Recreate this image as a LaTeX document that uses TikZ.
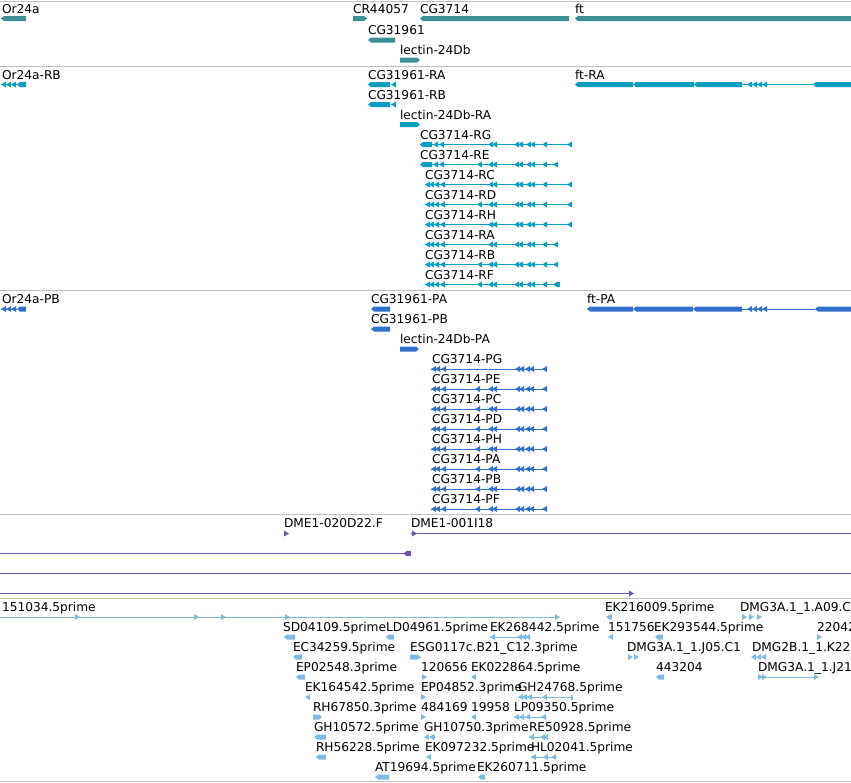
\documentclass[tikz,border=0pt]{standalone}
\usepackage{fontspec}
\setmainfont{DejaVu Sans}
\definecolor{cT}{RGB}{62,143,148}
\definecolor{cC}{RGB}{8,158,192}
\definecolor{cB}{RGB}{51,112,204}
\definecolor{cP}{RGB}{112,84,170}
\definecolor{cL}{RGB}{128,186,224}
\definecolor{cS}{RGB}{192,192,192}
\newcommand\lfont{\fontsize{12.2}{14}\selectfont}
\newcommand\GLbar[3]{\fill[gfill] (#1,#3) -- (#1+3,#3-2.5) -- (#2,#3-2.5) -- (#2,#3+2.5) -- (#1+3,#3+2.5) -- cycle;}
\newcommand\GRbar[3]{\fill[gfill] (#2,#3) -- (#2-3,#3-2.5) -- (#1,#3-2.5) -- (#1,#3+2.5) -- (#2-3,#3+2.5) -- cycle;}
\newcommand\GLh[2]{\fill[gfill] (#1,#2) -- (#1+5,#2-3) -- (#1+5,#2+3) -- cycle;}
\newcommand\GRh[2]{\fill[gfill] (#1,#2) -- (#1-5,#2-3) -- (#1-5,#2+3) -- cycle;}
\newcommand\GLhs[2]{\foreach \hx in {#1}{\GLh{\hx}{#2}}}
\newcommand\GRhs[2]{\foreach \hx in {#1}{\GRh{\hx}{#2}}}
\newcommand\GLn[3]{\draw[gline] (#1,#3) -- (#2,#3);}
\begin{document}
\begin{tikzpicture}[x=1pt,y=-1pt,
  lab/.style={anchor=base west,inner sep=0pt,outer sep=0pt,font=\lfont,text=black},
  gfill/.style={fill=gc},
  gline/.style={draw=gc,line width=1pt},
  sep/.style={draw=cS,line width=1pt}]
\useasboundingbox (0,0) rectangle (851,782);
\clip (0,0) rectangle (851,782);
\fill[white] (0,0) rectangle (851,782);
% separators
\draw[sep] (0,1) -- (851,1);
\draw[sep] (0,66) -- (851,66);
\draw[sep] (0,290.5) -- (851,290.5);
\draw[sep] (0,514) -- (851,514);
\draw[sep] (0,598) -- (851,598);
\draw[sep] (0,781) -- (851,781);
% ---------- track 1 (genes)
\begin{scope}
\colorlet{gc}{cT}
\node[lab] (g1) at (2,13) {Or24a};
\GLbar{1}{26}{18.5}
\node[lab] (g2) at (353,13) {CR44057};
\GRbar{353}{367}{18.5}
\node[lab] (g3) at (420,13) {CG3714};
\GLbar{420}{569}{18.5}
\node[lab] (g4) at (575,13) {ft};
\GLbar{575}{852}{18.5}
\node[lab] (g5) at (368,34) {CG31961};
\GLbar{368}{395}{40}
\node[lab] (g6) at (400,54) {lectin-24Db};
\GRbar{400}{420}{60}
\end{scope}
% ---------- track 2 (transcripts R)
\begin{scope}
\colorlet{gc}{cC}
\node[lab] (r1) at (2,79) {Or24a-RB};
\GLn{1}{17}{84.5}\GLhs{1,6,11}{84.5}\GLbar{17}{26}{84.5}
\node[lab] (r2) at (368,79) {CG31961-RA};
\GLbar{368}{390}{84.5}\GLh{391}{84.5}
\node[lab] (r3) at (575,79) {ft-RA};
\GLbar{575}{633}{84.5}\GLbar{633}{694}{84.5}\GLbar{694}{742}{84.5}
\GLn{742}{813}{84.5}\GLhs{747,752,757,762}{84.5}\GLbar{813}{852}{84.5}
\node[lab] (r4) at (368,99) {CG31961-RB};
\GLbar{368}{390}{104.5}\GLh{391}{104.5}
\node[lab] (r5) at (400,119) {lectin-24Db-RA};
\GRbar{400}{420}{124.5}
\node[lab] (r6) at (420,139) {CG3714-RG};
\GLn{420}{572}{144.5}\GLbar{420}{432}{144.5}\GLhs{433,439,488,492,514,518,526,530,542,567}{144.5}
\node[lab] (r7) at (420,159) {CG3714-RE};
\GLn{420}{558}{164.5}\GLbar{420}{432}{164.5}\GLhs{433,439,477,488,492,514,518,526,530,542,553}{164.5}
\node[lab] (r8) at (425,179) {CG3714-RC};
\GLn{425}{572}{184.5}\GLhs{425,429,434,440,488,492,514,518,526,530,542,567}{184.5}
\node[lab] (r9) at (425,199) {CG3714-RD};
\GLn{425}{572}{204.5}\GLhs{425,429,434,440,477,488,492,514,518,526,530,542,567}{204.5}
\node[lab] (r10) at (425,219) {CG3714-RH};
\GLn{425}{572}{224.5}\GLhs{425,429,434,440,488,492,514,518,526,530,542,567}{224.5}
\node[lab] (r11) at (425,239) {CG3714-RA};
\GLn{425}{558}{244.5}\GLhs{425,429,434,440,488,492,514,518,526,530,542,553}{244.5}
\node[lab] (r12) at (425,259) {CG3714-RB};
\GLn{425}{558}{264.5}\GLhs{425,429,434,440,477,488,492,514,518,526,530,542,553}{264.5}
\node[lab] (r13) at (425,279) {CG3714-RF};
\GLn{425}{560}{284.5}\GLhs{425,429,434,440,477,488,492,514,518,526,530,542,553}{284.5}\fill[gfill] (556,282) rectangle (560,287);
\end{scope}
% ---------- track 3 (transcripts P)
\begin{scope}
\colorlet{gc}{cB}
\node[lab] (p1) at (2,303) {Or24a-PB};
\GLn{1}{17}{309}\GLhs{1,6,11}{309}\GLbar{17}{26}{309}
\node[lab] (p2) at (371,303) {CG31961-PA};
\GLbar{371}{390}{309}
\node[lab] (p3) at (587,303) {ft-PA};
\GLbar{587}{633}{309}\GLbar{633}{693}{309}\GLbar{693}{742}{309}
\GLn{742}{815}{309}\GLhs{747,752,757,762}{309}\GLbar{815}{852}{309}
\node[lab] (p4) at (371,323) {CG31961-PB};
\GLbar{371}{390}{329}
\node[lab] (p5) at (400,343) {lectin-24Db-PA};
\GRbar{400}{419}{349}
\node[lab] (p6) at (432,363) {CG3714-PG};
\GLn{431}{547}{369}\GLhs{431,435,441,515,519,525,529,542}{369}
\node[lab] (p7) at (432,383) {CG3714-PE};
\GLn{431}{547}{389}\GLhs{431,435,441,475,488,492,515,519,525,529,542}{389}
\node[lab] (p8) at (432,403) {CG3714-PC};
\GLn{431}{547}{409}\GLhs{431,435,441,475,488,492,515,519,525,529,542}{409}
\node[lab] (p9) at (432,423) {CG3714-PD};
\GLn{431}{547}{429}\GLhs{431,435,441,475,488,492,515,519,525,529,542}{429}
\node[lab] (p10) at (432,443) {CG3714-PH};
\GLn{431}{547}{449}\GLhs{431,435,441,475,488,492,515,519,525,529,542}{449}
\node[lab] (p11) at (432,463) {CG3714-PA};
\GLn{431}{547}{469}\GLhs{431,435,441,475,488,492,515,519,525,529,542}{469}
\node[lab] (p12) at (432,483) {CG3714-PB};
\GLn{431}{547}{489}\GLhs{431,435,441,475,488,492,515,519,525,529,542}{489}
\node[lab] (p13) at (432,503) {CG3714-PF};
\GLn{431}{547}{509}\GLhs{431,435,441,475,488,492,515,519,525,529,542}{509}
\end{scope}
% ---------- track 4 (BAC ends)
\begin{scope}
\colorlet{gc}{cP}
\node[lab] (d1) at (284,527.5) {DME1-020D22.F};
\GRh{289}{533.5}
\node[lab] (d2) at (411,527.5) {DME1-001I18};
\GLn{411}{852}{533.5}\GRh{417}{533.5}
\GLn{-1}{408}{553.5}\GLh{403}{553.5}\fill[gfill] (406,551) rectangle (411,556);
\GLn{-1}{852}{573.5}
\GLn{-1}{630}{593.5}\GRh{634}{593.5}
\end{scope}
% ---------- track 5 (ESTs)
\begin{scope}
\colorlet{gc}{cL}
% row 0
\node[lab] (e1) at (2,611) {151034.5prime};
\GLn{-1}{558}{617}\GRhs{80,199,226,290,560}{617}
\node[lab] (e2) at (605,611) {EK216009.5prime};
\GLh{606}{617}\fill[gfill] (609,615) rectangle (612,619);
\node[lab] (e3) at (740,611) {DMG3A.1\_1.A09.C};
\GRhs{747,754,762}{617}
% row 1
\node[lab] (e4) at (283,631) {SD04109.5prime};
\GLbar{284}{295}{637}
\node[lab] (e5) at (386,631) {LD04961.5prime};
\GLbar{386}{394}{637}
\node[lab] (e6) at (490,631) {EK268442.5prime};
\GLn{490}{531}{637}\GLhs{490,517,521,525}{637}
\node[lab] (e7) at (608,631) {151756};
\GLh{608}{637}
\node[lab] (e8) at (654,631) {EK293544.5prime};
\GLbar{655}{663}{637}
\node[lab] (e9) at (817,631) {22042};
\GRh{822}{637}
% row 2
\node[lab] (e10) at (293,651) {EC34259.5prime};
\GLbar{293}{302}{657}
\node[lab] (e11) at (410,651) {ESG0117c.B21\_C12.3prime};
\GRbar{410}{421}{657}
\node[lab] (e12) at (627,651) {DMG3A.1\_1.J05.C1};
\GRhs{633,639}{657}
\node[lab] (e13) at (752,651) {DMG2B.1\_1.K22.};
\GLhs{751,756,761}{657}
% row 3
\node[lab] (e14) at (296,671) {EP02548.3prime};
\GLbar{296}{305}{677}
\node[lab] (e15) at (421,671) {120656};
\GRh{427}{677}
\node[lab] (e16) at (471,671) {EK022864.5prime};
\GLh{471}{677}
\node[lab] (e17) at (656,671) {443204};
\GLbar{656}{664}{677}
\node[lab] (e18) at (758,671) {DMG3A.1\_1.J21};
\GLn{758}{818}{677}\GRhs{763,767,819}{677}
% row 4
\node[lab] (e19) at (305,691) {EK164542.5prime};
\GLh{305}{697}
\node[lab] (e20) at (421,691) {EP04852.3prime};
\GRh{426}{697}
\node[lab] (e21) at (518,691) {GH24768.5prime};
\GLn{518}{572}{697}\GLhs{518,522,527,542}{697}\fill[gfill] (571,694.5) rectangle (572.5,699.5);
% row 5
\node[lab] (e22) at (313,711) {RH67850.3prime};
\GRbar{313}{322}{717}
\node[lab] (e23) at (421,711) {484169};
\GRh{426}{717}
\node[lab] (e24) at (471,711) {19958};
\GLh{471}{717}
\node[lab] (e25) at (514,711) {LP09350.5prime};
\GLn{514}{547}{717}\GLhs{514,519,525,541}{717}
% row 6
\node[lab] (e26) at (314,731) {GH10572.5prime};
\GLbar{314}{326}{737}
\node[lab] (e27) at (424,731) {GH10750.3prime};
\GLhs{424,429}{737}\fill[gfill] (432,735) rectangle (435,739);
\node[lab] (e28) at (529,731) {RE50928.5prime};
\GLn{529}{547}{737}\GLhs{529,540,543}{737}
% row 7
\node[lab] (e29) at (316,751) {RH56228.5prime};
\GLbar{316}{326}{757}
\node[lab] (e30) at (425,751) {EK097232.5prime};
\GLh{426}{757}
\node[lab] (e31) at (531,751) {HL02041.5prime};
\GLn{531}{557}{757}\GLhs{531,543,551}{757}
% row 8
\node[lab] (e32) at (375,771) {AT19694.5prime};
\GLbar{375}{389}{777}
\node[lab] (e33) at (477,771) {EK260711.5prime};
\GLbar{478}{485}{777}
\end{scope}
\end{tikzpicture}
\end{document}
